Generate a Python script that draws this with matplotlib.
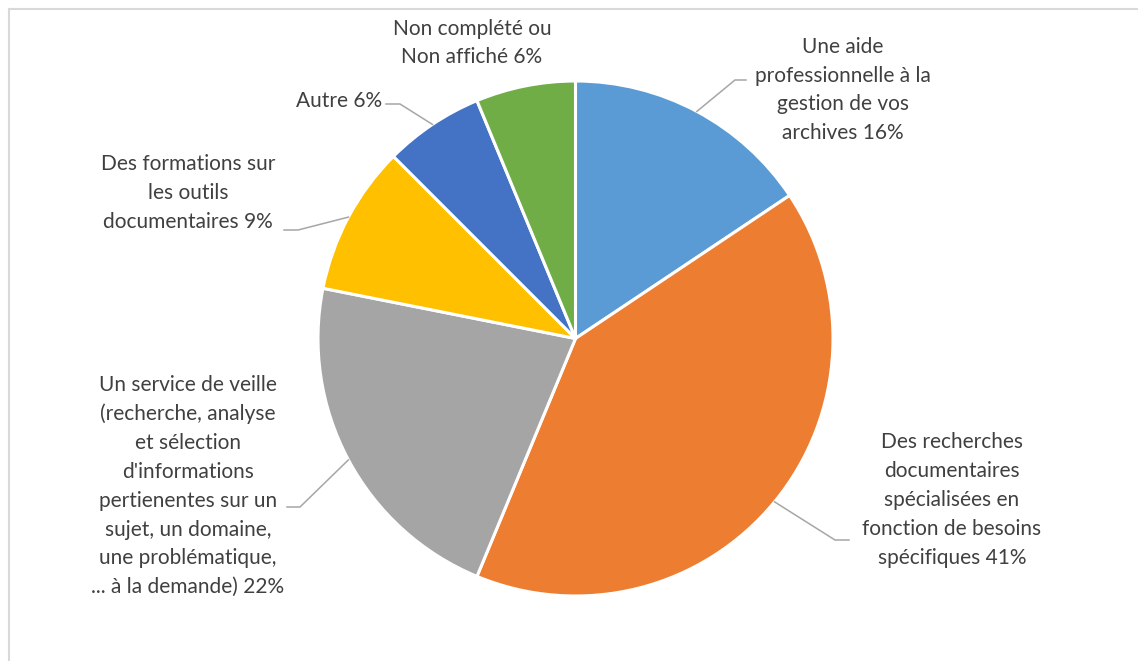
import matplotlib
matplotlib.use("Agg")
import matplotlib.pyplot as plt
import numpy as np
from matplotlib.lines import Line2D

# ---- data ----
categories = [
    "Une aide\nprofessionnelle à la\ngestion de vos\narchives",
    "Des recherches\ndocumentaires\nspécialisées en\nfonction de besoins\nspécifiques",
    "Un service de veille\n(recherche, analyse\net sélection\nd'informations\npertienentes sur un\nsujet, un domaine,\nune problématique,\n... à la demande)",
    "Des formations sur\nles outils\ndocumentaires",
    "Autre",
    "Non complété ou\nNon affiché",
]
counts = [5, 13, 7, 3, 2, 2]
colors = ["#5B9BD5", "#ED7D31", "#A5A5A5", "#FFC000", "#4472C4", "#70AD47"]

# ---- layout (pixel coordinates, y downward) ----
W, H = 1138, 661
center_px = (575.5, 338.5)
radius_px = 257.5
# label centre positions
label_pos = [(843, 90), (952, 500), (188, 486), (188, 193), (339, 101), (472, 43)]
# leader: elbow point and text-side end (None = no leader)
leaders = [((735, 80), (746, 80)),
           ((835, 540), (849, 540)),
           ((300, 507), (287, 507)),
           ((298, 230), (284, 230)),
           ((400, 104), (386, 104)),
           None]

FONT = "Lato"
FS = 15
TXT = "#404040"
LEAD = "#A6A6A6"

fig = plt.figure(figsize=(W / 100, H / 100), dpi=100)
ax = fig.add_axes([0, 0, 1, 1])

def py(y):
    return H - y

wedges, _ = ax.pie(counts, colors=colors, startangle=90, counterclock=False,
                   center=(center_px[0], py(center_px[1])), radius=radius_px,
                   wedgeprops=dict(edgecolor="white", linewidth=2.2),
                   frame=True)
ax.set_xlim(0, W)
ax.set_ylim(0, H)
ax.set_aspect("equal")
ax.axis("off")

total = sum(counts)
for i, (w, cat) in enumerate(zip(wedges, categories)):
    pct = round(100 * counts[i] / total)
    label = f"{cat} {pct}%"
    lx, ly = label_pos[i]
    ax.text(lx, py(ly), label, ha="center", va="center", multialignment="center",
            fontsize=FS, family=FONT, color=TXT, linespacing=1.55)
    if leaders[i] is not None:
        mid = np.deg2rad((w.theta1 + w.theta2) / 2)
        ex = w.center[0] + w.r * np.cos(mid)
        ey = w.center[1] + w.r * np.sin(mid)
        (bx, by), (tx, ty) = leaders[i]
        ax.plot([ex, bx, tx], [ey, py(by), py(ty)], color=LEAD, lw=1.1,
                solid_joinstyle="miter")

# outer frame (top and left edges visible)
fig.add_artist(Line2D([8.5 / W, 1], [1 - 8.5 / H, 1 - 8.5 / H], color="#D9D9D9", lw=1.5,
                      transform=fig.transFigure))
fig.add_artist(Line2D([8.5 / W, 8.5 / W], [0, 1 - 8.5 / H], color="#D9D9D9", lw=1.5,
                      transform=fig.transFigure))

fig.savefig("out.png", dpi=100, facecolor="white")
